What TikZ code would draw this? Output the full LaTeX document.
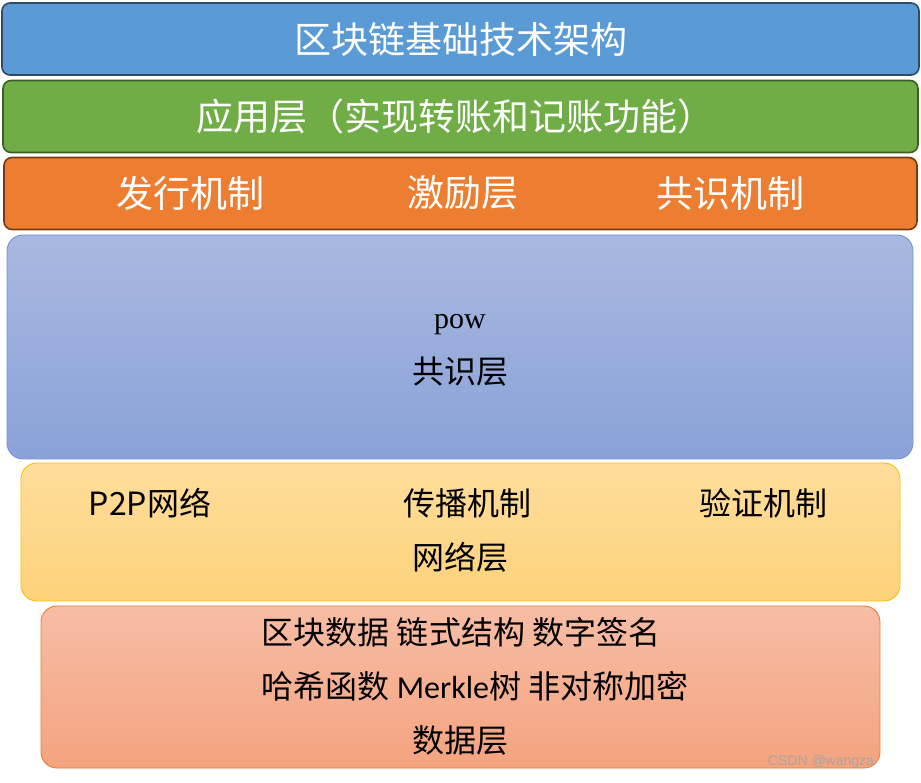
\documentclass[tikz,border=0pt]{standalone}
\usepackage{fontspec}
\usepackage{tikz}
\setmainfont{Carlito}
\newfontfamily\cjk{Noto Sans CJK SC}
\newfontfamily\serifpow{Liberation Serif}
\newfontfamily\wmfont{Liberation Sans}
\usetikzlibrary{positioning}

\definecolor{titleblue}{HTML}{5B9BD5}
\definecolor{titleline}{HTML}{2E4A66}
\definecolor{appgreen}{HTML}{70AD47}
\definecolor{appline}{HTML}{3B5E25}
\definecolor{incorange}{HTML}{ED7D31}
\definecolor{incline}{HTML}{7A3A10}
\definecolor{constop}{HTML}{A9B8E0}
\definecolor{consbot}{HTML}{8AA2D9}
\definecolor{consline}{HTML}{7393D8}
\definecolor{nettop}{HTML}{FEDD9C}
\definecolor{netbot}{HTML}{FDD27A}
\definecolor{netline}{HTML}{FFC000}
\definecolor{datatop}{HTML}{F7BDA5}
\definecolor{databot}{HTML}{F4A37F}
\definecolor{dataline}{HTML}{ED7D31}

\tikzset{
  layer/.style={draw, rounded corners=8pt, inner sep=0pt, line width=1.6pt, minimum height=72pt},
  softlayer/.style={draw, rounded corners=16pt, inner sep=0pt, line width=0.9pt, shading=axis},
  whitetxt/.style={inner sep=0pt, text=white, font=\cjk\fontsize{37}{40}\selectfont},
  blacktxt/.style={inner sep=0pt, text=black, font=\cjk\fontsize{32}{36}\selectfont}
}

\begin{document}
\begin{tikzpicture}[x=1pt, y=1pt]

    \useasboundingbox (0,0) rectangle (921,782);

    % 标题
    \node[layer, fill=titleblue, draw=titleline, minimum width=917pt] (title) at (460.5,743) {};
    \node[whitetxt] (titletxt) at (title) {区块链基础技术架构};

    % 应用层
    \node[layer, fill=appgreen, draw=appline, minimum width=915pt] (app) at (460.5,665.5) {};
    \node[whitetxt] (apptxt) at (455,665.5) {应用层（实现转账和记账功能）};

    % 激励层
    \node[layer, fill=incorange, draw=incline, minimum width=913pt] (inc) at (460.5,588.5) {};
    \node[whitetxt] (issue) at (190,589) {发行机制};
    \node[whitetxt] (inctxt) at (463,589) {激励层};
    \node[whitetxt] (consmech) at (730,589) {共识机制};

    % 共识层
    \node[softlayer, top color=constop, bottom color=consbot, draw=consline,
          minimum width=906pt, minimum height=224pt] (cons) at (460,435) {};
    \node[inner sep=0pt, font=\serifpow\fontsize{30}{34}\selectfont] (pow) at (460,457) {pow};
    \node[blacktxt] (constxt) at (460,410) {共识层};

    % 网络层
    \node[softlayer, top color=nettop, bottom color=netbot, draw=netline,
          minimum width=879pt, minimum height=138pt] (net) at (460.5,250) {};
    \node[blacktxt] (p2p) at (150,279) {P2P\cjk 网络};
    \node[blacktxt] (spread) at (467,279) {传播机制};
    \node[blacktxt] (verify) at (763,279) {验证机制};
    \node[blacktxt] (nettxt) at (460,225) {网络层};

    % 数据层
    \node[softlayer, top color=datatop, bottom color=databot, draw=dataline,
          minimum width=839pt, minimum height=162pt] (data) at (460.5,95) {};
    \node[blacktxt] (dataone) at (461,150) {区块数据 链式结构 数字签名};
    \node[blacktxt] (datatwo) at (475,96) {哈希函数 {\normalfont Merkle}树 非对称加密};
    \node[blacktxt] (datatxt) at (460,42) {数据层};

    % 水印
    \node[inner sep=0pt, text=gray!70, font=\wmfont\fontsize{14}{16}\selectfont] (mark) at (821,20) {CSDN @wangza};

\end{tikzpicture}
\end{document}
